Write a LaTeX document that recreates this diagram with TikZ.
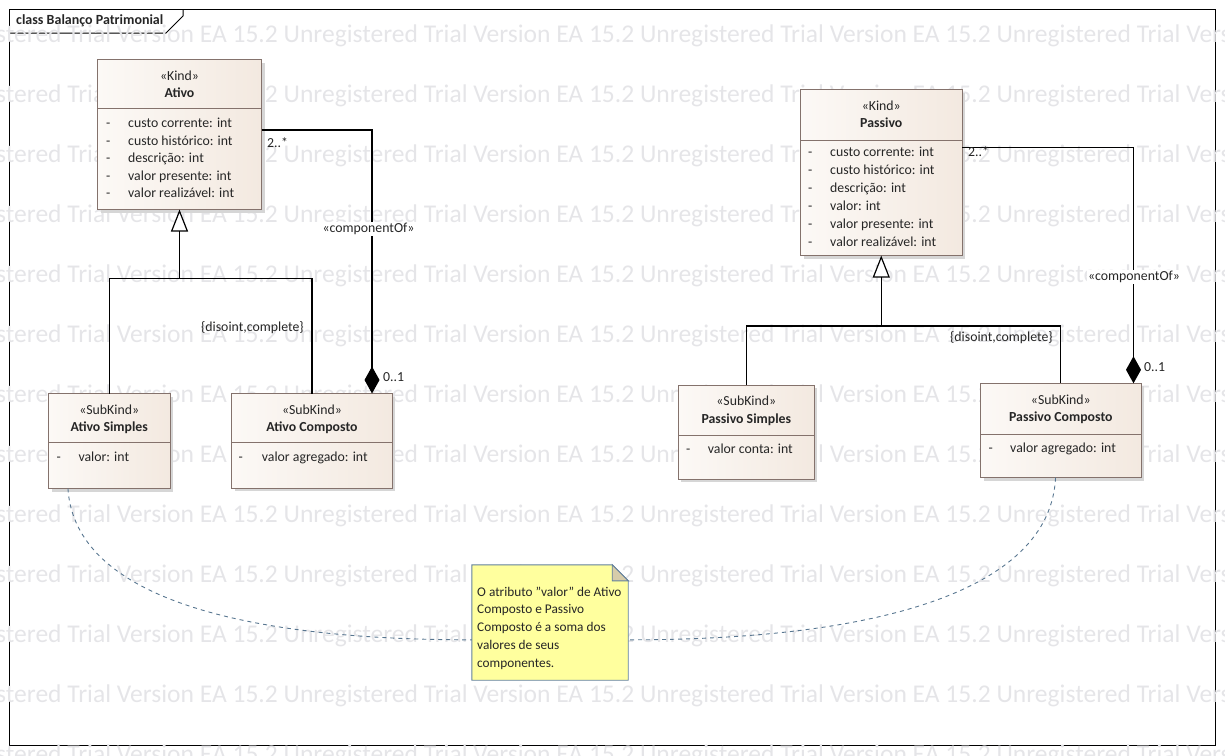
\documentclass[tikz,border=0pt]{standalone}
\usepackage{fontspec}
\setmainfont{Carlito}
\usetikzlibrary{arrows.meta,shadows,calc}

\definecolor{clsborder}{RGB}{132,114,108}
\definecolor{clsleft}{RGB}{252,249,246}
\definecolor{clsright}{RGB}{243,233,224}
\definecolor{wmgray}{RGB}{229,229,232}
\definecolor{notefill}{RGB}{255,255,158}
\definecolor{noteborder}{RGB}{98,128,156}
\definecolor{linkblue}{RGB}{88,118,144}
\definecolor{foldfill}{RGB}{214,204,170}

\newcommand\umlfont{\fontsize{13.8}{16}\selectfont}
\newcommand\wmtext{Unregistered Trial Version EA 15.2}

\tikzset{
  x=1pt, y=-1pt,
  umlbox/.style={draw=clsborder, line width=0.9pt, left color=clsleft, right color=clsright,
    general shadow={fill=black!16, shadow xshift=3pt, shadow yshift=-3pt},
    inner sep=0pt, outer sep=0pt},
  sepline/.style={draw=clsborder, line width=0.9pt},
  txt/.style={font=\umlfont, text=black!85, inner sep=0pt},
  txtb/.style={font=\umlfont\bfseries, text=black!85, inner sep=0pt},
  notetxt/.style={font=\fontsize{13.3}{16}\selectfont, text=black!85, inner sep=0pt},
  wm/.style={font=\fontsize{25.55}{25.55}\selectfont, text=wmgray, inner sep=0pt, anchor=base west},
  conn/.style={draw=black, line width=1.2pt},
  genarrow/.style={-{Triangle[length=22pt, width=17pt, fill=white]}},
  comparrow/.style={-{Diamond[length=27pt, width=15pt]}},
  notelink/.style={draw=linkblue, line width=0.9pt, dash pattern=on 4pt off 4pt},
  lbl/.style={font=\umlfont, text=black!85, inner sep=0pt},
}

\begin{document}
\begin{tikzpicture}
\useasboundingbox (0,0) rectangle (1225,755);
\clip (0,0) rectangle (1225,755);

% diagram frame and name tab
\draw[line width=1pt] (9,9) rectangle (1215,745);
\draw[line width=1pt] (9,33) -- (166,33) -- (183,16) -- (183,9);
\node[txtb, anchor=base west, font=\fontsize{14}{16}\selectfont\bfseries] (title) at (16,24) {class Balanço Patrimonial};

% evaluation watermark rows
\foreach \r in {0,...,12}
  \node[wm] (wm-\r) at (-73,{42+60*\r}) {\wmtext{} \wmtext{} \wmtext{} \wmtext};

% ---------- Ativo ----------
\node[umlbox, minimum width=164pt, minimum height=150pt] (ativo) at (179.5,134.5) {};
\draw[sepline] (ativo.west |- 0,108.5) -- (ativo.east |- 0,108.5);
\node[txt, anchor=base] (ativo-st) at (179.5,80) {«Kind»};
\node[txtb, anchor=base] (ativo-nm) at (179.5,97) {Ativo};
\foreach \t [count=\i] in {custo corrente: int, custo histórico: int, descrição: int, valor presente: int, valor realizável: int} {
  \node[txt, anchor=base west] (ativo-d\i) at (106,{127.5+17.5*(\i-1)}) {-};
  \node[txt, anchor=base west] (ativo-a\i) at (128,{127.5+17.5*(\i-1)}) {\t};
}

% ---------- Passivo ----------
\node[umlbox, minimum width=161.5pt, minimum height=166pt] (passivo) at (881.25,172.5) {};
\draw[sepline] (passivo.west |- 0,140) -- (passivo.east |- 0,140);
\node[txt, anchor=base] (passivo-st) at (881.25,110) {«Kind»};
\node[txtb, anchor=base] (passivo-nm) at (881.25,127.3) {Passivo};
\foreach \t [count=\i] in {custo corrente: int, custo histórico: int, descrição: int, valor: int, valor presente: int, valor realizável: int} {
  \node[txt, anchor=base west] (passivo-d\i) at (808,{156.5+17.9*(\i-1)}) {-};
  \node[txt, anchor=base west] (passivo-a\i) at (830,{156.5+17.9*(\i-1)}) {\t};
}

% ---------- Ativo Simples ----------
\node[umlbox, minimum width=121.5pt, minimum height=95pt] (asimp) at (109.25,441) {};
\draw[sepline] (asimp.west |- 0,442.7) -- (asimp.east |- 0,442.7);
\node[txt, anchor=base] (asimp-st) at (109.25,414.7) {«SubKind»};
\node[txtb, anchor=base] (asimp-nm) at (109.25,431.7) {Ativo Simples};
\node[txt, anchor=base west] (asimp-d1) at (56.5,461.3) {-};
\node[txt, anchor=base west] (asimp-a1) at (78.3,461.3) {valor: int};

% ---------- Ativo Composto ----------
\node[umlbox, minimum width=160.6pt, minimum height=94.5pt] (acomp) at (312,440.75) {};
\draw[sepline] (acomp.west |- 0,442.7) -- (acomp.east |- 0,442.7);
\node[txt, anchor=base] (acomp-st) at (312,414.7) {«SubKind»};
\node[txtb, anchor=base] (acomp-nm) at (312,431.7) {Ativo Composto};
\node[txt, anchor=base west] (acomp-d1) at (238.5,461.3) {-};
\node[txt, anchor=base west] (acomp-a1) at (261.7,461.3) {valor agregado: int};

% ---------- Passivo Simples ----------
\node[umlbox, minimum width=136pt, minimum height=94pt] (psimp) at (746.3,432) {};
\draw[sepline] (psimp.west |- 0,435.3) -- (psimp.east |- 0,435.3);
\node[txt, anchor=base] (psimp-st) at (746.3,405.7) {«SubKind»};
\node[txtb, anchor=base] (psimp-nm) at (746.3,423.3) {Passivo Simples};
\node[txt, anchor=base west] (psimp-d1) at (686,453) {-};
\node[txt, anchor=base west] (psimp-a1) at (707.7,453) {valor conta: int};

% ---------- Passivo Composto ----------
\node[umlbox, minimum width=160.3pt, minimum height=94.4pt] (pcomp) at (1060.85,430.5) {};
\draw[sepline] (pcomp.west |- 0,434.3) -- (pcomp.east |- 0,434.3);
\node[txt, anchor=base] (pcomp-st) at (1060.85,404.7) {«SubKind»};
\node[txtb, anchor=base] (pcomp-nm) at (1060.85,421.7) {Passivo Composto};
\node[txt, anchor=base west] (pcomp-d1) at (988.5,452.3) {-};
\node[txt, anchor=base west] (pcomp-a1) at (1010,452.3) {valor agregado: int};

% ---------- generalization sets ----------
\coordinate (genA) at (179.5,278.5);
\draw[conn] (asimp.north) |- (genA) -| (acomp.north);
\draw[conn, genarrow] (genA) -- (ativo.south);
\node[lbl, anchor=base east] (gsA) at (304,331) {\{disoint,complete\}};

\coordinate (genP) at (881.25,326);
\draw[conn] (psimp.north) |- (genP) -| (pcomp.north);
\draw[conn, genarrow] (genP) -- (passivo.south);
\node[lbl, anchor=base east] (gsP) at (1053,341) {\{disoint,complete\}};

% ---------- componentOf ----------
\coordinate (cA) at (372,130);
\draw[conn, comparrow] (cA -| ativo.east) -- (cA) -- (cA |- acomp.north);
\node[lbl, anchor=base west] (mA1) at (267,147) {2..*};
\node[lbl, fill=white, inner sep=1pt] (cmpA) at (368.5,229) {«componentOf»};
\node[lbl, anchor=base west] (mA2) at (383,381) {0..1};

\coordinate (cP) at (1133.5,147.5);
\draw[conn, comparrow] (cP -| passivo.east) -- (cP) -- (cP |- pcomp.north);
\node[lbl, anchor=base west] (mP1) at (968,156) {2..*};
\node[lbl, fill=white, inner sep=1pt] (cmpP) at (1134,277) {«componentOf»};
\node[lbl, anchor=base west] (mP2) at (1144,371.5) {0..1};

% ---------- note ----------
\node[inner sep=0pt, minimum width=156pt, minimum height=115pt] (note) at (550,622.5) {};
\draw[fill=notefill, draw=noteborder, line width=0.9pt]
  (note.north west) -- ($(note.north east)+(-16,0)$) -- ($(note.north east)+(0,16)$)
  -- (note.south east) -- (note.south west) -- cycle;
\draw[fill=foldfill, draw=noteborder, line width=0.9pt]
  ($(note.north east)+(-16,0)$) -- ($(note.north east)+(0,16)$) -- ($(note.north east)+(-16,16)$) -- cycle;
\foreach \t [count=\i] in {O atributo \symbol{34}valor\symbol{34} de Ativo, Composto e Passivo, Composto é a soma dos, valores de seus, componentes.}
  \node[notetxt, anchor=base west] (note-l\i) at (477,{596+17.75*(\i-1)}) {\t};

% note links
\draw[notelink] ($(asimp.south west)!0.16!(asimp.south east)$)
  .. controls (75,600) and (250,640) .. ($(note.south west)!0.35!(note.north west)$);
\draw[notelink] ($(pcomp.south west)!0.467!(pcomp.south east)$)
  .. controls (1050,590) and (880,640) .. ($(note.south east)!0.35!(note.north east)$);
\end{tikzpicture}
\end{document}
